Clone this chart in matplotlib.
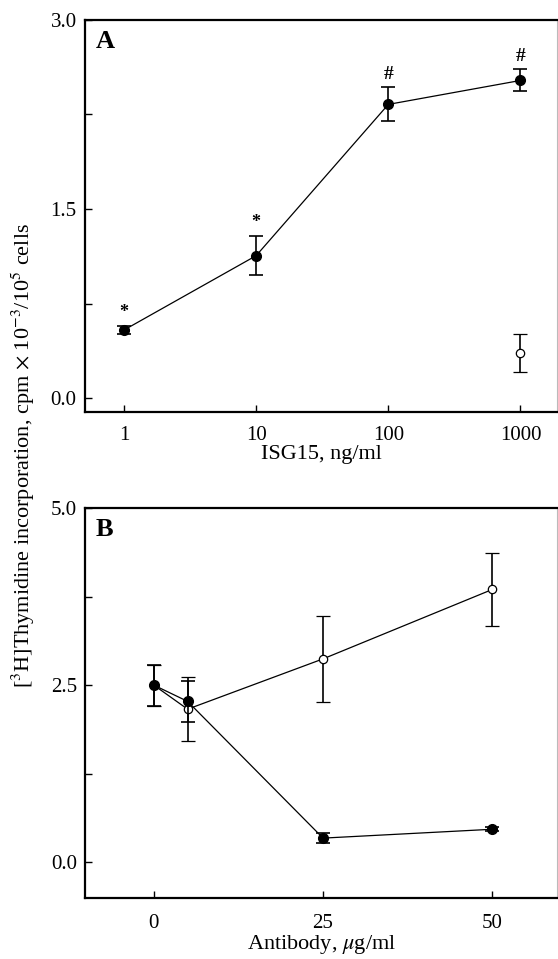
import matplotlib
matplotlib.use("Agg")
import matplotlib.pyplot as plt
import numpy as np

# ---------------- data ----------------
# Panel A
isg15_dose = [1, 10, 100, 1000]
isg15_mean = [0.54, 1.13, 2.33, 2.52]
isg15_err = [0.03, 0.155, 0.135, 0.087]
isg15_marks = ["*", "*", "#", "#"]
ctrl_dose = [1000]
ctrl_mean = [0.355]
ctrl_err = [0.15]
a_yticks = [0.0, 1.5, 3.0]
a_minor = [0.75, 2.25]
a_xticks = [1, 10, 100, 1000]
a_xticklabels = ["1", "10", "100", "1000"]

# Panel B
ab_dose = [0, 5, 25, 50]
anti_mean = [2.5, 2.27, 0.34, 0.465]
anti_err = [0.29, 0.29, 0.075, 0.03]
ctrl_ab_mean = [2.5, 2.16, 2.87, 3.85]
ctrl_ab_err = [0.29, 0.45, 0.61, 0.52]
b_yticks = [0.0, 2.5, 5.0]
b_minor = [1.25, 3.75]
b_xticks = [0, 25, 50]

# ---------------- style ----------------
plt.rcParams['font.family'] = ['Liberation Serif', 'DejaVu Serif']
plt.rcParams['mathtext.fontset'] = 'stix'
TFS = 15
LFS = 16

fig = plt.figure(figsize=(5.58, 9.59), dpi=100)
axA = fig.add_axes([0.1523, 0.5704, 0.8465, 0.4088])
axB = fig.add_axes([0.1530, 0.0640, 0.8458, 0.4063])


def style(ax, xpad):
    for s in ['left', 'bottom', 'top']:
        ax.spines[s].set_linewidth(1.6)
    ax.spines['right'].set_linewidth(0.8)
    ax.spines['right'].set_color('#bbbbbb')
    ax.tick_params(direction='in', length=5, width=1.0, labelsize=TFS,
                   top=False, right=False)
    ax.tick_params(axis='y', pad=6)
    ax.tick_params(axis='x', pad=xpad)
    ax.tick_params(which='minor', direction='in', length=5, width=1.0)


# Panel A
axA.set_xscale('log')
axA.errorbar(isg15_dose, isg15_mean, yerr=isg15_err, fmt='-o', color='black',
             mfc='black', ms=7, lw=0.9, elinewidth=1.2, capsize=5, capthick=1.2)
axA.errorbar(ctrl_dose, ctrl_mean, yerr=ctrl_err, fmt='o', color='black',
             mfc='white', ms=6, mew=0.9, elinewidth=1.2, capsize=5, capthick=1.2)
for x, m, e, s in zip(isg15_dose, isg15_mean, isg15_err, isg15_marks):
    axA.annotate(s, (x, m + e), xytext=(0, 3 if s == '#' else 4),
                 textcoords='offset points', ha='center', va='bottom',
                 fontsize=14 if s == '#' else 13, fontweight='bold')
axA.set_xlim(0.507, 1900)
axA.set_ylim(-0.11, 3.0)
axA.set_xticks(a_xticks)
axA.set_xticklabels(a_xticklabels)
axA.xaxis.set_minor_locator(matplotlib.ticker.NullLocator())
axA.set_yticks(a_yticks)
axA.set_yticklabels([f"{v:.1f}" for v in a_yticks])
axA.set_yticks(a_minor, minor=True)
style(axA, 10)
axA.set_xlabel("ISG15, ng/ml", fontsize=LFS, labelpad=0)
axA.text(0.022, 0.975, "A", transform=axA.transAxes, fontsize=19,
         fontweight='bold', va='top', ha='left')

# Panel B
axB.errorbar(ab_dose, ctrl_ab_mean, yerr=ctrl_ab_err, fmt='-o', color='black',
             mfc='white', ms=6, mew=0.9, lw=0.9, elinewidth=1.2, capsize=5,
             capthick=1.2, zorder=2)
axB.errorbar(ab_dose, anti_mean, yerr=anti_err, fmt='-o', color='black',
             mfc='black', ms=7, lw=0.9, elinewidth=1.2, capsize=5, capthick=1.2,
             zorder=3)
axB.set_xlim(-10.1, 59.6)
axB.set_ylim(-0.5, 5.0)
axB.set_xticks(b_xticks)
axB.set_yticks(b_yticks)
axB.set_yticklabels([f"{v:.1f}" for v in b_yticks])
axB.set_yticks(b_minor, minor=True)
style(axB, 12)
axB.set_xlabel(r"Antibody, $\mu$g/ml", fontsize=LFS, labelpad=0)
axB.text(0.022, 0.975, "B", transform=axB.transAxes, fontsize=19,
         fontweight='bold', va='top', ha='left')

fig.text(0.041, 0.525,
         r"[$^3$H]Thymidine incorporation, cpm $\times$ 10$^{-3}$/10$^5$ cells",
         rotation=90, fontsize=LFS, ha='center', va='center')

fig.savefig("out.png", dpi=100)
